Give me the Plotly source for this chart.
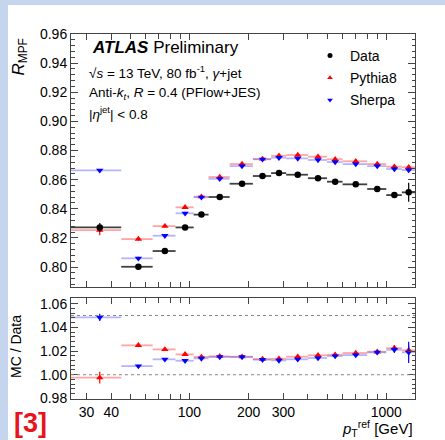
import plotly.graph_objects as go
import math

# ---- data ----
bin_edges = [25, 45, 65, 85, 105, 125, 160, 210, 260, 310, 400, 500, 600, 800, 1000, 1200, 1400]

data_r   = [0.8272, 0.8002, 0.8110, 0.8272, 0.8360, 0.8481, 0.8572, 0.8625, 0.8645, 0.8634,
            0.8610, 0.8586, 0.8568, 0.8536, 0.8494, 0.8513]
data_err = [0.0030, 0.0010, 0.0010, 0.0010, 0.0010, 0.0010, 0.0010, 0.0010, 0.0010, 0.0010,
            0.0010, 0.0010, 0.0012, 0.0015, 0.0020, 0.0065]

pythia_r   = [0.8254, 0.8192, 0.8281, 0.8410, 0.8483, 0.8618, 0.8707, 0.8742, 0.8764, 0.8769,
              0.8758, 0.8740, 0.8726, 0.8707, 0.8689, 0.8685]
pythia_err = [0.0035, 0.0010, 0.0010, 0.0010, 0.0010, 0.0010, 0.0010, 0.0010, 0.0010, 0.0010,
              0.0010, 0.0010, 0.0010, 0.0010, 0.0012, 0.0015]

sherpa_r   = [0.8664, 0.8060, 0.8215, 0.8369, 0.8479, 0.8606, 0.8693, 0.8740, 0.8751, 0.8746,
              0.8735, 0.8721, 0.8707, 0.8693, 0.8673, 0.8666]
sherpa_err = [0.0010, 0.0010, 0.0010, 0.0010, 0.0010, 0.0010, 0.0010, 0.0010, 0.0010, 0.0010,
              0.0010, 0.0010, 0.0010, 0.0010, 0.0012, 0.0015]

pythia_ratio     = [0.9975, 1.0248, 1.0214, 1.0172, 1.0150, 1.0155, 1.0152, 1.0132, 1.0135, 1.0152,
                    1.0164, 1.0169, 1.0183, 1.0194, 1.0225, 1.0206]
pythia_ratio_err = [0.0050, 0.0012, 0.0012, 0.0012, 0.0012, 0.0012, 0.0012, 0.0012, 0.0012, 0.0012,
                    0.0012, 0.0012, 0.0015, 0.0018, 0.0025, 0.0040]
sherpa_ratio     = [1.0484, 1.0073, 1.0130, 1.0118, 1.0138, 1.0150, 1.0150, 1.0127, 1.0121, 1.0130,
                    1.0141, 1.0158, 1.0166, 1.0189, 1.0211, 1.0189]
sherpa_ratio_err = [0.0030, 0.0012, 0.0012, 0.0012, 0.0012, 0.0012, 0.0012, 0.0012, 0.0012, 0.0012,
                    0.0012, 0.0012, 0.0015, 0.0018, 0.0025, 0.0090]

x_tickvals = [30, 40, 100, 200, 300, 1000]
x_ticktext = ["30", "40", "100", "200", "300", "1000"]
x_minorvals = [50, 60, 70, 80, 90, 400, 500, 600, 700, 800, 900]

# ---- derived bin geometry ----
centers = [(lo + hi) / 2 for lo, hi in zip(bin_edges[:-1], bin_edges[1:])]
err_lo = [c - lo for c, lo in zip(centers, bin_edges[:-1])]
err_hi = [hi - c for c, hi in zip(centers, bin_edges[1:])]

FONT = "Liberation Sans, Arial, sans-serif"

fig = go.Figure()

def add(y, yerr, name, symbol, color, hcolor, xa, ya):
    fig.add_trace(go.Scatter(
        x=centers, y=y, mode="markers", name=name,
        xaxis=xa, yaxis=ya, showlegend=False,
        marker=dict(symbol=symbol, size=6.5, color=color, line=dict(width=0)),
        error_x=dict(type="data", symmetric=False, array=err_hi, arrayminus=err_lo,
                     color=hcolor, thickness=1.8, width=0),
        error_y=dict(type="data", array=yerr, color=color, thickness=1.2, width=0),
    ))

# top panel
add(pythia_r, pythia_err, "Pythia8", "triangle-up", "#ff0000", "rgba(255,90,90,0.55)", "x", "y")
add(sherpa_r, sherpa_err, "Sherpa", "triangle-down", "#0000ff", "rgba(90,90,255,0.45)", "x", "y")
add(data_r, data_err, "Data", "circle", "#000000", "rgba(0,0,0,0.75)", "x", "y")
# ratio panel
add(pythia_ratio, pythia_ratio_err, "Pythia8", "triangle-up", "#ff0000", "rgba(255,90,90,0.55)", "x2", "y2")
add(sherpa_ratio, sherpa_ratio_err, "Sherpa", "triangle-down", "#0000ff", "rgba(90,90,255,0.45)", "x2", "y2")

# legend entries (small markers, as in the reference)
for i, (name, symbol, color) in enumerate([("Data", "circle", "#000000"),
                                           ("Pythia8", "triangle-up", "#ff0000"),
                                           ("Sherpa", "triangle-down", "#0000ff")]):
    fig.add_trace(go.Scatter(x=[None], y=[None], mode="markers", name=name,
                             legendrank=i + 1, legendgroup=name, showlegend=True,
                             marker=dict(symbol=symbol, size=5, color=color)))

xr = [math.log10(25), math.log10(1400)]

common_x = dict(type="log", range=xr, showline=True, linecolor="#444", linewidth=1,
                mirror="ticks", ticks="inside", ticklen=6, tickcolor="#444",
                tickmode="array", tickvals=x_tickvals, ticktext=x_ticktext,
                minor=dict(ticks="inside", ticklen=5, tickvals=x_minorvals, tickcolor="#444"),
                showgrid=False, zeroline=False)
common_y = dict(showline=True, linecolor="#444", linewidth=1, mirror="ticks",
                ticks="inside", ticklen=7, tickcolor="#444", dtick=0.02,
                showgrid=False, zeroline=False,
                minor=dict(ticks="inside", ticklen=3.5, dtick=0.004, tickcolor="#444"))

fig.update_layout(
    width=445, height=440,
    margin=dict(l=71, r=30, t=34, b=41),
    paper_bgcolor="#c5d5ee", plot_bgcolor="white",
    font=dict(family=FONT, size=14, color="black"),
    xaxis=dict(common_x, domain=[0, 1], anchor="y", showticklabels=False),
    xaxis2=dict(common_x, domain=[0, 1], anchor="y2", matches="x",
                tickfont=dict(size=14)),
    yaxis=dict(common_y, domain=[0.3068, 1.0], range=[0.7863, 0.96], anchor="x",
               tickformat=".2f", tickfont=dict(size=14)),
    yaxis2=dict(common_y, domain=[0.0, 0.2767], range=[0.9795, 1.0648], anchor="x2",
                tickformat=".2f", tickfont=dict(size=14)),
    legend=dict(x=(310 - 71) / 344, y=(399 - 40) / 365, xanchor="left", yanchor="top",
                bgcolor="rgba(0,0,0,0)", font=dict(size=14), traceorder="grouped",
                tracegroupgap=1, itemwidth=30),
    showlegend=True,
)

# white page area (blue strips remain on left and top)
fig.add_shape(type="rect", xref="paper", yref="paper",
              x0=(8 - 71) / 344, x1=(450 - 71) / 344, y0=(399 - 445) / 365, y1=(399 - 5) / 365,
              fillcolor="white", line=dict(width=0), layer="below")

# dotted reference lines in ratio panel
for yv in [1.0, 1.05]:
    fig.add_shape(type="line", xref="x2 domain", yref="y2", x0=0, x1=1, y0=yv, y1=yv,
                  line=dict(color="#888", width=1, dash="dot"))

def px(xp):
    return (xp - 71) / 344

def py(yp):
    return (399 - yp) / 365

ann = [
    dict(text="<b><i>ATLAS</i></b> Preliminary", x=px(90), y=py(48), xanchor="left",
         yanchor="middle", font=dict(size=17)),
    dict(text="√<i>s</i> = 13 TeV, 80 fb<sup>-1</sup>, <i>γ</i>+jet", x=px(87), y=py(72),
         xanchor="left", yanchor="middle", font=dict(size=13.5)),
    dict(text="Anti-<i>k</i><sub><i>t</i></sub>, <i>R</i> = 0.4 (PFlow+JES)", x=px(87), y=py(93),
         xanchor="left", yanchor="middle", font=dict(size=13.5)),
    dict(text="|<i>η</i><sup>jet</sup>| &lt; 0.8", x=px(87), y=py(113),
         xanchor="left", yanchor="middle", font=dict(size=13.5)),
    dict(text="<i>R</i><sub>MPF</sub>", x=px(20), y=py(36), xanchor="center", yanchor="top",
         textangle=-90, font=dict(size=17)),
    dict(text="MC / Data", x=px(16), y=py(347), xanchor="center", yanchor="middle",
         textangle=-90, font=dict(size=14)),
    dict(text="<i>p</i><sub>T</sub><sup>ref</sup> [GeV]", x=px(415), y=py(428), xanchor="right",
         yanchor="middle", font=dict(size=15)),
    dict(text="<b>[3]</b>", x=px(30), y=py(423), xanchor="center", yanchor="middle",
         font=dict(size=27, color="#e8141c", family="Liberation Sans Narrow, Arial Narrow, sans-serif")),
]
for a in ann:
    a.update(xref="paper", yref="paper", showarrow=False)
    fig.add_annotation(**a)

fig.write_html("out.html")
